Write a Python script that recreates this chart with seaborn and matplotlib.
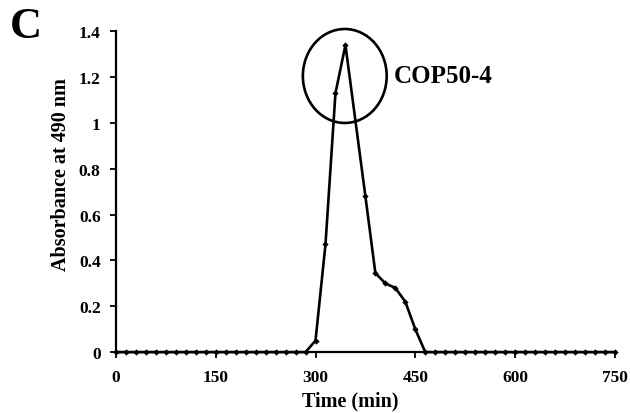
import matplotlib
matplotlib.use("Agg")
import matplotlib.pyplot as plt
from matplotlib.patches import Ellipse
import seaborn as sns
import pandas as pd

time_min = [0, 15, 30, 45, 60, 75, 90, 105, 120, 135, 150, 165, 180, 195, 210,
            225, 240, 255, 270, 285, 300, 315, 330, 345, 375, 390, 405, 420,
            435, 450, 465, 480, 495, 510, 525, 540, 555, 570, 585, 600, 615,
            630, 645, 660, 675, 690, 705, 720, 735, 750]
absorbance = [0, 0, 0, 0, 0, 0, 0, 0, 0, 0, 0, 0, 0, 0, 0,
              0, 0, 0, 0, 0, 0.05, 0.47, 1.13, 1.34, 0.68, 0.345, 0.30, 0.28,
              0.22, 0.10, 0, 0, 0, 0, 0, 0, 0, 0, 0, 0, 0,
              0, 0, 0, 0, 0, 0, 0, 0, 0]
x_ticks = [0, 150, 300, 450, 600, 750]
y_ticks = [0, 0.2, 0.4, 0.6, 0.8, 1.0, 1.2, 1.4]
y_tick_labels = ["0", "0.2", "0.4", "0.6", "0.8", "1", "1.2", "1.4"]
peak_label = "COP50-4"
panel_label = "C"

df = pd.DataFrame({"Time": time_min, "Absorbance": absorbance})

sns.set_theme(style="ticks")
plt.rcParams["font.family"] = ["Liberation Serif", "DejaVu Serif"]
plt.rcParams["font.weight"] = "bold"
plt.rcParams["text.color"] = "black"
plt.rcParams["axes.labelcolor"] = "black"
plt.rcParams["xtick.color"] = "black"
plt.rcParams["ytick.color"] = "black"

fig = plt.figure(figsize=(6.3, 4.14), dpi=100)
ax = fig.add_axes([0.184, 0.147, 0.792, 0.775])

sns.lineplot(data=df, x="Time", y="Absorbance", ax=ax, color="black",
             linewidth=1.9, marker="D", markersize=3.2, markeredgewidth=0,
             markerfacecolor="black", clip_on=False, zorder=3)

ax.set_xlim(0, 750)
ax.set_ylim(0, 1.4)
ax.set_xticks(x_ticks)
ax.set_xticklabels([str(v) for v in x_ticks], fontsize=12.5, fontweight="bold",
                   color="black")
ax.set_yticks(y_ticks)
ax.set_yticklabels(y_tick_labels, fontsize=12.5, fontweight="bold", color="black")
ax.set_xlabel("Time (min)", fontsize=14.5, fontweight="bold", color="black")
ax.set_ylabel("Absorbance at 490 nm", fontsize=14.5, fontweight="bold",
              color="black")
ax.xaxis.set_label_coords(0.469, -0.12)
ax.yaxis.set_label_coords(-0.09, 0.556)

for s in ["top", "right"]:
    ax.spines[s].set_visible(False)
for s in ["left", "bottom"]:
    ax.spines[s].set_linewidth(1.6)
    ax.spines[s].set_color("black")
ax.tick_params(axis="x", direction="out", length=4, width=1.3, colors="black",
               pad=8)
ax.tick_params(axis="y", direction="out", length=4, width=1.3, colors="black",
               pad=7)

ell = Ellipse((344, 1.205), width=126, height=0.41, fill=False,
              edgecolor="black", linewidth=1.9, clip_on=False, zorder=4)
ax.add_patch(ell)

ax.text(418, 1.205, peak_label, fontsize=18, fontweight="bold",
        va="center", ha="left", color="black")
fig.text(0.016, 0.935, panel_label, fontsize=32, fontweight="bold",
         va="center", ha="left", color="black")

fig.savefig("out.png", dpi=100)
